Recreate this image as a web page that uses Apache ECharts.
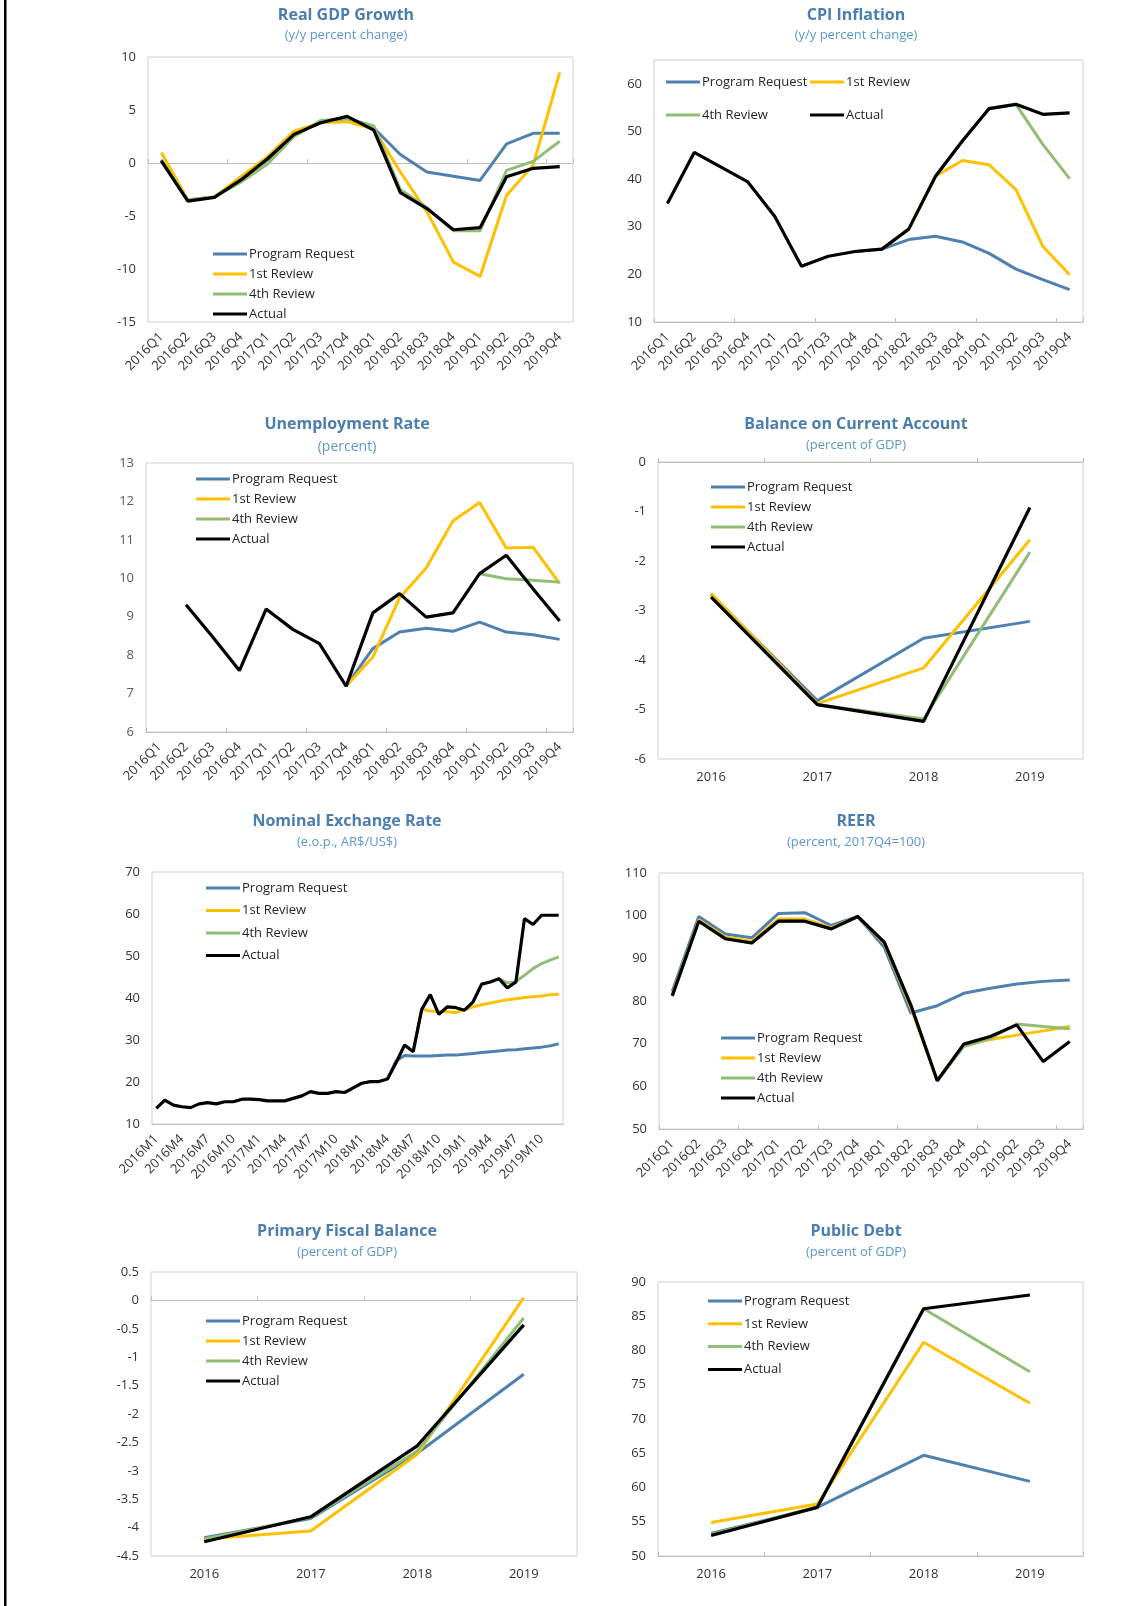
<!DOCTYPE html>
<html>
<head>
<meta charset="utf-8">
<script src="https://cdn.jsdelivr.net/npm/echarts@6/dist/echarts.min.js"></script>
<style>
html, body { margin: 0; padding: 0; background: #fff; }
#page { width: 1148px; height: 1606px; }
</style>
</head>
<body>
<div id="page"></div>
<script>
// categories
var quarters = ['2016Q1','2016Q2','2016Q3','2016Q4','2017Q1','2017Q2','2017Q3','2017Q4',
                '2018Q1','2018Q2','2018Q3','2018Q4','2019Q1','2019Q2','2019Q3','2019Q4'];
var years = ['2016','2017','2018','2019'];
var months = ['2016M1','2016M2','2016M3','2016M4','2016M5','2016M6','2016M7','2016M8','2016M9','2016M10','2016M11','2016M12',
              '2017M1','2017M2','2017M3','2017M4','2017M5','2017M6','2017M7','2017M8','2017M9','2017M10','2017M11','2017M12',
              '2018M1','2018M2','2018M3','2018M4','2018M5','2018M6','2018M7','2018M8','2018M9','2018M10','2018M11','2018M12',
              '2019M1','2019M2','2019M3','2019M4','2019M5','2019M6','2019M7','2019M8','2019M9','2019M10','2019M11','2019M12'];

// Real GDP growth
var gdpProgram = [0.3, -3.5, -3.2, -1.5, 0.3, 2.7, 3.8, 4.2, 3.3, 0.8, -0.85, -1.25, -1.65, 1.8, 2.8, 2.8];
var gdpFirst   = [1.0, -3.5, -3.2, -1.3, 0.6, 3.0, 3.8, 3.9, 3.2, -0.85, -4.6, -9.35, -10.7, -3.05, -0.2, 8.55];
var gdpFourth  = [0.2, -3.5, -3.2, -1.8, -0.1, 2.5, 4.0, 4.2, 3.5, -2.5, -4.2, -6.4, -6.4, -0.7, 0.15, 2.05];
var gdpActual  = [0.2, -3.6, -3.25, -1.6, 0.4, 2.7, 3.8, 4.4, 3.1, -2.8, -4.3, -6.3, -6.1, -1.3, -0.5, -0.35];

// CPI inflation
var cpiProgram = [null, null, null, null, null, null, null, 24.8, 25.3, 27.3, 28.0, 26.8, 24.4, 21.1, 18.9, 16.8];
var cpiFirst   = [null, null, null, null, null, null, null, null, 25.3, 29.5, 40.6, 43.9, 43.0, 37.8, 25.9, 19.9];
var cpiFourth  = [null, null, null, null, null, null, null, null, null, null, 40.6, 48.0, 54.8, 55.7, 47.3, 40.1];
var cpiActual  = [34.9, 45.6, 42.5, 39.4, 32.2, 21.7, 23.8, 24.8, 25.3, 29.5, 40.6, 48.0, 54.8, 55.7, 53.6, 53.9];

// Unemployment rate
var unProgram = [null, null, null, null, null, null, null, 7.2, 8.17, 8.6, 8.7, 8.62, 8.86, 8.6, 8.53, 8.41];
var unFirst   = [null, null, null, null, null, null, null, 7.2, 7.95, 9.49, 10.27, 11.49, 11.97, 10.79, 10.81, 9.86];
var unFourth  = [null, null, null, null, null, null, null, null, null, null, null, null, 10.12, 9.99, 9.95, 9.9];
var unActual  = [null, 9.31, 8.47, 7.6, 9.2, 8.67, 8.3, 7.19, 9.1, 9.6, 8.99, 9.1, 10.12, 10.6, 9.73, 8.89];

// Balance on current account
var caProgram = [-2.68, -4.82, -3.56, -3.22];
var caFirst   = [-2.65, -4.88, -4.16, -1.57];
var caFourth  = [-2.72, -4.9, -5.19, -1.82];
var caActual  = [-2.73, -4.9, -5.24, -0.92];

// Nominal exchange rate
var erProgram = [null, null, null, null, null, null, null, null, null, null, null, null,
                 null, null, null, null, null, null, null, null, null, null, null, null,
                 null, null, null, 20.7, 25.0, 26.3, 26.2, 26.2, 26.2, 26.3, 26.4, 26.4,
                 26.6, 26.8, 27.0, 27.2, 27.4, 27.6, 27.7, 27.9, 28.1, 28.3, 28.6, 29.1];
var erFirst   = [null, null, null, null, null, null, null, null, null, null, null, null,
                 null, null, null, null, null, null, null, null, null, null, null, null,
                 null, null, null, null, null, null, 27.2, 37.3, 36.9, 36.8, 36.7, 36.5,
                 37.3, 37.9, 38.4, 38.8, 39.2, 39.6, 39.8, 40.1, 40.3, 40.5, 40.8, 40.9];
var erFourth  = [null, null, null, null, null, null, null, null, null, null, null, null,
                 null, null, null, null, null, null, null, null, null, null, null, null,
                 null, null, null, null, null, null, null, null, null, null, null, null,
                 null, null, null, null, 44.6, 43.6, 43.9, 45.4, 47.0, 48.2, 49.0, 49.8];
var erActual  = [13.7, 15.7, 14.5, 14.1, 13.9, 14.8, 15.1, 14.8, 15.3, 15.3, 15.9, 15.9,
                 15.8, 15.5, 15.5, 15.5, 16.1, 16.7, 17.7, 17.3, 17.3, 17.7, 17.5, 18.6,
                 19.7, 20.1, 20.1, 20.7, 24.6, 28.8, 27.2, 37.3, 40.8, 36.1, 37.9, 37.7,
                 37.1, 39.1, 43.3, 43.8, 44.6, 42.4, 43.8, 58.9, 57.5, 59.7, 59.7, 59.7];

// REER
var reerProgram = [82.2, 99.8, 95.7, 94.8, 100.5, 100.7, 97.7, 99.8, 92.6, 77.2, 78.9, 81.8, 83.0, 84.0, 84.6, 84.9];
var reerFirst   = [81.5, 99.0, 95.0, 94.0, 99.2, 99.2, 97.2, 99.8, 93.5, 78.5, 61.5, 69.5, 71.0, 72.0, 73.0, 74.0];
var reerFourth  = [81.2, 98.7, 94.6, 93.6, 98.7, 98.7, 96.9, 99.8, 93.8, 79.1, 61.3, 69.3, 71.2, 74.6, 74.0, 73.5];
var reerActual  = [81.2, 98.7, 94.6, 93.6, 98.7, 98.7, 96.9, 99.8, 93.8, 79.1, 61.3, 69.9, 71.7, 74.4, 65.8, 70.5];

// Primary fiscal balance
var pfProgram = [-4.18, -3.84, -2.69, -1.30];
var pfFirst   = [-4.2, -4.06, -2.71, 0.05];
var pfFourth  = [-4.2, -3.82, -2.65, -0.31];
var pfActual  = [-4.25, -3.81, -2.56, -0.43];

// Public debt
var debtProgram = [53.3, 57.1, 64.7, 60.9];
var debtFirst   = [54.9, 57.6, 81.2, 72.3];
var debtFourth  = [53.1, 57.2, 86.1, 76.9];
var debtActual  = [53.0, 57.1, 86.1, 88.1];

var names = ['Program Request', '1st Review', '4th Review', 'Actual'];
var colors = ['#4E80B0', '#FFC000', '#92BD74', '#000000'];
var FONT = "'Open Sans', 'Noto Sans', sans-serif";

var panels = [
  {title: 'Real GDP Growth', sub: '(y/y percent change)', tx: 346, ty: 15, sy: 35,
   grid: [148, 57, 425, 265], min: -15, max: 10, interval: 5, cats: quarters, rotate: 45,
   data: [gdpProgram, gdpFirst, gdpFourth, gdpActual],
   legends: [{left: 213, top: 246, gap: 4, names: names}]},
  {title: 'CPI Inflation', sub: '(y/y percent change)', tx: 856, ty: 15, sy: 35,
   grid: [654, 60, 429, 262], min: 10, max: 65, interval: 10, cats: quarters, rotate: 45, hideMax: true,
   data: [cpiProgram, cpiFirst, cpiFourth, cpiActual],
   legends: [{left: 666, top: 74, gap: 17, names: ['Program Request', '4th Review']},
             {left: 810, top: 74, gap: 17, names: ['1st Review', 'Actual']}]},
  {title: 'Unemployment Rate', sub: '(percent)', tx: 347, ty: 424, sy: 447, subSize: 14,
   grid: [146, 463, 427, 269], min: 6, max: 13, interval: 1, cats: quarters, rotate: 45, ycolor: '#595959',
   data: [unProgram, unFirst, unFourth, unActual],
   legends: [{left: 196, top: 471, gap: 4, names: names}]},
  {title: 'Balance on Current Account', sub: '(percent of GDP)', tx: 856, ty: 424, sy: 445,
   grid: [658, 462, 425, 297], min: -6, max: 0, interval: 1, cats: years, rotate: 0,
   data: [caProgram, caFirst, caFourth, caActual],
   legends: [{left: 711, top: 479, gap: 4, names: names}]},
  {title: 'Nominal Exchange Rate', sub: '(e.o.p., AR$/US$)', tx: 347, ty: 821, sy: 842,
   grid: [152, 872, 411, 252], min: 10, max: 70, interval: 10, cats: months, rotate: 45, labelInterval: 2, noTicks: true,
   data: [erProgram, erFirst, erFourth, erActual],
   legends: [{left: 206, top: 880, gap: 6.5, names: names}]},
  {title: 'REER', sub: '(percent, 2017Q4=100)', tx: 856, ty: 821, sy: 842,
   grid: [659, 873, 424, 256], min: 50, max: 110, interval: 10, cats: quarters, rotate: 45,
   data: [reerProgram, reerFirst, reerFourth, reerActual],
   legends: [{left: 721, top: 1030, gap: 4, names: names}]},
  {title: 'Primary Fiscal Balance', sub: '(percent of GDP)', tx: 347, ty: 1231, sy: 1252,
   grid: [151, 1272, 426, 284], min: -4.5, max: 0.5, interval: 0.5, cats: years, rotate: 0,
   data: [pfProgram, pfFirst, pfFourth, pfActual],
   legends: [{left: 206, top: 1313, gap: 4, names: names}]},
  {title: 'Public Debt', sub: '(percent of GDP)', tx: 856, ty: 1231, sy: 1252,
   grid: [658, 1282, 425, 274], min: 50, max: 90, interval: 5, cats: years, rotate: 0,
   data: [debtProgram, debtFirst, debtFourth, debtActual],
   legends: [{left: 708, top: 1293, gap: 6.8, names: names}]}
];

var option = {
  animation: false,
  backgroundColor: '#ffffff',
  textStyle: {fontFamily: FONT},
  grid: [], xAxis: [], yAxis: [], series: [], legend: [],
  graphic: [{type: 'rect', shape: {x: 4, y: 0, width: 2.5, height: 1606}, style: {fill: '#000'}}]
};

panels.forEach(function (p, i) {
  option.grid.push({left: p.grid[0], top: p.grid[1], width: p.grid[2], height: p.grid[3],
    show: true, borderColor: '#d0d0d0', borderWidth: 1});
  // labels along the bottom of the plot
  option.xAxis.push({type: 'category', gridIndex: i, data: p.cats, position: 'bottom',
    axisLine: {show: false, onZero: false}, axisTick: {show: false}, splitLine: {show: false},
    axisLabel: {rotate: p.rotate, interval: p.labelInterval || 0, color: '#333',
      fontSize: 13, margin: p.rotate ? 13 : 12, fontFamily: FONT}});
  // axis line sitting on zero, ticks between categories
  option.xAxis.push({type: 'category', gridIndex: i, data: p.cats, position: 'bottom',
    axisLine: {show: true, onZero: true, lineStyle: {color: '#bfbfbf', width: 1}},
    axisTick: {show: !p.noTicks, inside: true, length: 4, lineStyle: {color: '#bfbfbf'}},
    axisLabel: {show: false}, splitLine: {show: false}});
  option.yAxis.push({type: 'value', gridIndex: i, min: p.min, max: p.max, interval: p.interval,
    axisLine: {show: false}, axisTick: {show: false}, splitLine: {show: false},
    axisLabel: {color: p.ycolor || '#333', fontSize: 13, margin: 12, fontFamily: FONT,
      showMaxLabel: !p.hideMax}});
  names.forEach(function (n, k) {
    option.series.push({name: n, type: 'line', xAxisIndex: 2 * i, yAxisIndex: i,
      data: p.data[k], symbol: 'none', z: 2 + k,
      lineStyle: {width: k === 3 ? 3.2 : 3, color: colors[k]}, itemStyle: {color: colors[k]}});
  });
  p.legends.forEach(function (lg) {
    option.legend.push({orient: 'vertical', left: lg.left, top: lg.top, itemGap: lg.gap,
      itemWidth: 34, itemHeight: 3, icon: 'rect', selectedMode: false, padding: 0,
      data: lg.names,
      textStyle: {fontSize: 13, color: '#262626', lineHeight: 16, fontFamily: FONT, padding: [0, 0, 0, -3]}});
  });
  option.graphic.push({type: 'text', x: p.tx, y: p.ty,
    style: {text: p.title, font: 'bold 16px ' + FONT, fill: '#4A7DB0',
      textAlign: 'center', textVerticalAlign: 'middle', align: 'center', verticalAlign: 'middle'}});
  option.graphic.push({type: 'text', x: p.tx, y: p.sy,
    style: {text: p.sub, font: (p.subSize || 13) + 'px ' + FONT, fill: '#5B97CC',
      textAlign: 'center', textVerticalAlign: 'middle', align: 'center', verticalAlign: 'middle'}});
});

var chart = echarts.init(document.getElementById('page'), null, {renderer: 'canvas'});
chart.setOption(option);
</script>
</body>
</html>
